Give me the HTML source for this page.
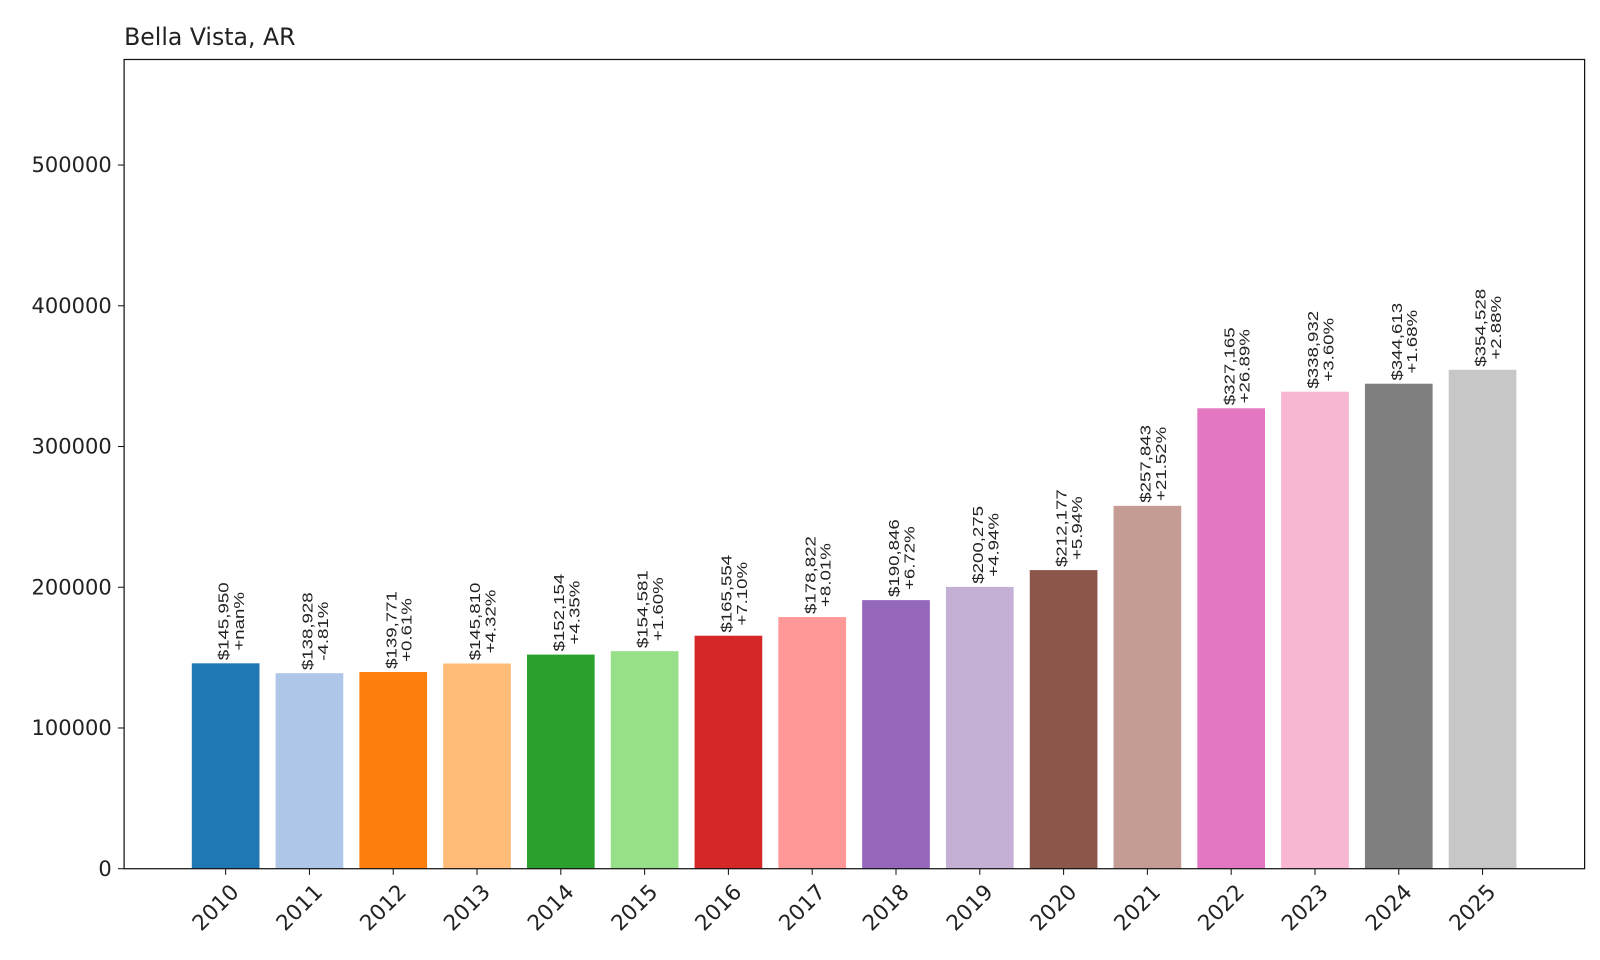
<!DOCTYPE html>
<html><head><meta charset="utf-8"><style>
body{margin:0;background:#fff;}
svg{display:block;font-family:"DejaVu Sans","Liberation Sans",sans-serif;}
</style></head><body>
<svg id="chart" width="1600" height="960" viewBox="0 0 1560 936" preserveAspectRatio="none">
<text x="121" y="44" font-size="23" fill="#222">Bella Vista, AR</text>
<g id="bars"></g>
<g id="yaxis"></g>
<g id="xaxis"></g>
<rect x="121" y="58" width="1424" height="789" fill="none" stroke="#111" stroke-width="1.2"/>
</svg>
<script>
const years=["2010","2011","2012","2013","2014","2015","2016","2017","2018","2019","2020","2021","2022","2023","2024","2025"];
const values=[145950,138928,139771,145810,152154,154581,165554,178822,190846,200275,212177,257843,327165,338932,344613,354528];
const changes=["+nan%","-4.81%","+0.61%","+4.32%","+4.35%","+1.60%","+7.10%","+8.01%","+6.72%","+4.94%","+5.94%","+21.52%","+26.89%","+3.60%","+1.68%","+2.88%"];
const yTicks=[0,100000,200000,300000,400000,500000];
const colors=["#1f77b4","#aec7e8","#ff7f0e","#ffbb78","#2ca02c","#98df8a","#d62728","#ff9896","#9467bd","#c5b0d5","#8c564b","#c49c94","#e377c2","#f7b6d2","#7f7f7f","#c7c7c7"];
const NS="http://www.w3.org/2000/svg";
const L=121,R=1545,T=58,B=847,YMAX=575000;
const y=v=>B-(v/YMAX)*(B-T);
const step=81.7, x0=220;
const xc=i=>x0+i*step;
const bw=66;
function mk(tag,attrs,parent){const e=document.createElementNS(NS,tag);for(const k in attrs)e.setAttribute(k,attrs[k]);parent.appendChild(e);return e;}
const gb=document.getElementById('bars'),gy=document.getElementById('yaxis'),gx=document.getElementById('xaxis');
values.forEach((v,i)=>{
  const r=mk('rect',{x:xc(i)-bw/2,y:y(v),width:bw,height:B-y(v),fill:colors[i]},gb);
  
  
  const t=mk('text',{transform:`translate(${xc(i)},${y(v)-3}) rotate(-90) scale(1.3,1)`,'font-size':14,fill:'#222','font-family':'Liberation Sans, sans-serif'},gb);
  
  
  const s1=mk('tspan',{x:0,y:3},t);s1.textContent='$'+v.toLocaleString('en-US');
  const s2=mk('tspan',{x:0,y:18},t);s2.textContent=changes[i];
  const l1=s1.getComputedTextLength(),l2=s2.getComputedTextLength(),m=Math.max(l1,l2);
  s1.setAttribute('x',(m-l1)/2);s2.setAttribute('x',(m-l2)/2);
  const tk=mk('line',{x1:xc(i),x2:xc(i),y1:B,y2:B+6,stroke:'#111'},gx);
  
  
  const xl=mk('text',{transform:`translate(${xc(i)+14},${B+24}) rotate(-45)`,'text-anchor':'end','font-size':21,fill:'#222'},gx);
  
  
  xl.textContent=years[i];
});
yTicks.forEach(t=>{
  const ln=mk('line',{x1:L-6,x2:L,y1:y(t),y2:y(t),stroke:'#111'},gy);
  
  
  const tx=mk('text',{x:L-12,y:y(t)+7,'text-anchor':'end','font-size':20.5,fill:'#222'},gy);
  
  
  tx.textContent=String(t);
});
</script>
</body></html>
